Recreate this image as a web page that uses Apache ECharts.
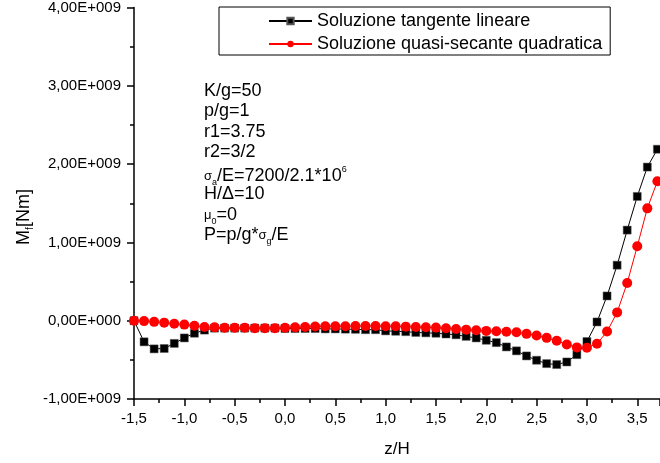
<!DOCTYPE html>
<html>
<head>
<meta charset="utf-8">
<script src="https://cdn.jsdelivr.net/npm/echarts@6/dist/echarts.min.js"></script>
<style>
html,body{margin:0;padding:0;background:#fff;}
#c{width:660px;height:463px;}
</style>
</head>
<body>
<div id="c"></div>
<script>
// z/H positions
var zValues = [-1.5,-1.4,-1.3,-1.2,-1.1,-1.0,-0.9,-0.8,-0.7,-0.6,-0.5,-0.4,-0.3,-0.2,-0.1,0.0,
  0.1,0.2,0.3,0.4,0.5,0.6,0.7,0.8,0.9,1.0,1.1,1.2,1.3,1.4,1.5,1.6,1.7,1.8,1.9,2.0,
  2.1,2.2,2.3,2.4,2.5,2.6,2.7,2.8,2.9,3.0,3.1,3.2,3.3,3.4,3.5,3.6,3.7];
// Mf values in units of 1E+009 Nm
var tangenteLineare = [0,-0.27,-0.36,-0.355,-0.29,-0.22,-0.16,-0.12,-0.095,-0.095,-0.095,-0.095,-0.095,-0.095,-0.095,-0.1,
  -0.1,-0.1,-0.1,-0.105,-0.105,-0.108,-0.11,-0.115,-0.115,-0.13,-0.135,-0.14,-0.15,-0.155,-0.16,-0.17,-0.18,-0.2,-0.22,-0.25,
  -0.28,-0.335,-0.385,-0.45,-0.505,-0.548,-0.56,-0.527,-0.434,-0.266,-0.016,0.316,0.709,1.157,1.587,1.962,2.19];
var quasiSecanteQuadratica = [0,-0.005,-0.015,-0.025,-0.04,-0.05,-0.065,-0.08,-0.085,-0.09,-0.09,-0.09,-0.095,-0.095,-0.095,-0.09,
  -0.085,-0.08,-0.075,-0.072,-0.071,-0.071,-0.068,-0.068,-0.068,-0.071,-0.071,-0.076,-0.08,-0.084,-0.088,-0.097,-0.105,-0.114,-0.122,-0.13,
  -0.135,-0.14,-0.147,-0.168,-0.19,-0.219,-0.257,-0.303,-0.341,-0.345,-0.295,-0.139,0.106,0.481,0.95,1.435,1.78];
var seriesNames = ['Soluzione tangente lineare','Soluzione quasi-secante quadratica'];
var yTickLabels = {'-1':'-1,00E+009','0':'0,00E+000','1':'1,00E+009','2':'2,00E+009','3':'3,00E+009','4':'4,00E+009'};
var annotationLines = [
  '{t|K/g=50}',
  '{t|p/g=1}',
  '{t|r1=3.75}',
  '{t|r2=3/2}',
  '{g|σ}{sb|a}{t|/E=7200/2.1*10}{sp|6}',
  '{t|H/Δ=10}',
  '{g|μ}{sb|0}{t|=0}',
  '{t|P=p/g*}{g|σ}{sb|g}{t|/E}'
];

function pair(xs, ys){ return xs.map(function(x,i){ return [x, ys[i]]; }); }

var FONT = '"Liberation Sans", Arial, sans-serif';
var chart = echarts.init(document.getElementById('c'), null, {renderer:'canvas'});

var rich = {
  t:{fontSize:18, fontFamily:FONT, color:'#000', lineHeight:22, verticalAlign:'middle'},
  g:{fontSize:13, fontFamily:FONT, color:'#000', lineHeight:22, verticalAlign:'middle'},
  sb:{fontSize:9, fontFamily:FONT, color:'#000', lineHeight:22, verticalAlign:'bottom'},
  sp:{fontSize:9, fontFamily:FONT, color:'#000', lineHeight:22, verticalAlign:'top'}
};
var annotY = [93, 113.5, 134, 154.5, 176, 196.5, 217, 237.5];
var graphics = annotationLines.map(function(txt, i){
  return {type:'text', left:204, top:annotY[i]-11, style:{text:txt, rich:rich, font:'18px '+FONT, fill:'#000'}, z:10};
});
graphics.push({
  type:'text', x:24, y:217, rotation:Math.PI/2,
  style:{text:'{m|M}{s|f}{m|[Nm]}', align:'center', verticalAlign:'middle',
    rich:{m:{fontSize:18, fontFamily:FONT, color:'#000', lineHeight:22, verticalAlign:'middle'},
          s:{fontSize:10, fontFamily:FONT, color:'#000', lineHeight:22, verticalAlign:'bottom'}}},
  z:10
});

chart.setOption({
  animation:false,
  backgroundColor:'#fff',
  grid:{left:134, right:0, top:5, bottom:63, containLabel:false},
  legend:{
    orient:'vertical', left:219, top:7,
    backgroundColor:'#fff', borderColor:'#000', borderWidth:1, borderRadius:0,
    padding:[4,8,1,49], itemGap:3, itemWidth:43, itemHeight:8,
    textStyle:{fontSize:18, fontFamily:FONT, color:'#000', lineHeight:20},
    data:seriesNames
  },
  xAxis:{
    type:'value', min:-1.5, max:3.726, interval:0.5,
    name:'z/H', nameLocation:'middle', nameGap:42,
    nameTextStyle:{fontSize:17, fontFamily:FONT, color:'#000'},
    axisLine:{show:true, onZero:false, lineStyle:{color:'#000', width:1.5}},
    axisTick:{show:true, inside:false, length:7, lineStyle:{color:'#000', width:1.5}},
    minorTick:{show:true, splitNumber:2, length:4, lineStyle:{color:'#000', width:1.5}},
    splitLine:{show:false},
    axisLabel:{fontSize:15, fontFamily:FONT, color:'#000', margin:12, showMaxLabel:false,
      formatter:function(v){ return Math.abs(v - 3.726) < 1e-6 ? '' : v.toFixed(1).replace('.',','); }}
  },
  yAxis:{
    type:'value', min:-1, max:4, interval:1,
    axisLine:{show:true, onZero:false, lineStyle:{color:'#000', width:1.5}},
    axisTick:{show:true, inside:false, length:7, lineStyle:{color:'#000', width:1.5}},
    minorTick:{show:true, splitNumber:2, length:4, lineStyle:{color:'#000', width:1.5}},
    splitLine:{show:false},
    axisLabel:{fontSize:15, fontFamily:FONT, color:'#000', margin:13,
      formatter:function(v){ return yTickLabels[String(Math.round(v))] || ''; }}
  },
  graphic:graphics,
  series:[
    {name:seriesNames[0], type:'line', data:pair(zValues, tangenteLineare),
      symbol:'rect', symbolSize:8, color:'#000',
      itemStyle:{color:'#000', borderColor:'#555', borderWidth:0.5},
      lineStyle:{color:'#000', width:1}, z:2},
    {name:seriesNames[1], type:'line', data:pair(zValues, quasiSecanteQuadratica),
      symbol:'circle', symbolSize:10, color:'#ff0000',
      itemStyle:{color:'#ff0000'},
      lineStyle:{color:'#ff0000', width:1}, z:3}
  ]
});
</script>
</body>
</html>
